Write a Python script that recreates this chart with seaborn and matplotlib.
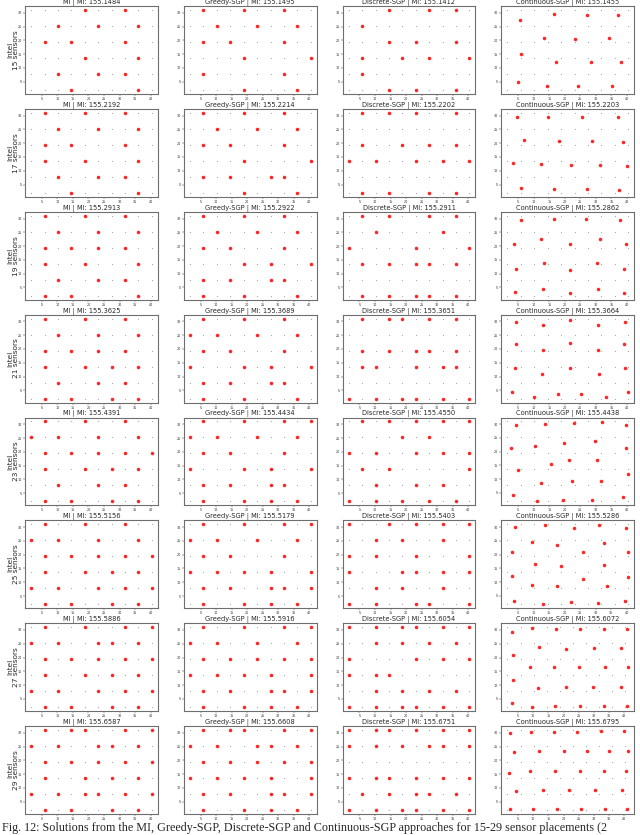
import matplotlib
matplotlib.use("Agg")
import matplotlib.pyplot as plt
import seaborn as sns
import pandas as pd

# ---------------- data ----------------
sensor_counts = [15, 17, 19, 21, 23, 25, 27, 29]
methods = ["MI", "Greedy-SGP", "Discrete-SGP", "Continuous-SGP"]

# candidate grid (Intel lab)
grid_x = [1.5, 5.9, 10.2, 14.5, 18.8, 23.2, 27.5, 31.8, 36.1, 40.4]
grid_y = [2.0, 7.8, 13.6, 19.4, 25.2, 31.0]

mi_scores = [155.1484, 155.2192, 155.2913, 155.3625, 155.4391, 155.5156, 155.5886, 155.6587]
greedy_scores = [155.1495, 155.2214, 155.2922, 155.3689, 155.4434, 155.5179, 155.5916, 155.6608]
discrete_scores = [155.1412, 155.2202, 155.2911, 155.3651, 155.4550, 155.5403, 155.6054, 155.6751]
cont_scores = [155.1455, 155.2203, 155.2862, 155.3664, 155.4438, 155.5286, 155.6072, 155.6795]

# discrete solutions: selected grid columns for each grid row (bottom row first)
mi_15 = [[3, 8], [2, 5, 7], [4, 8], [1, 3, 7], [2, 5, 8], [4, 7]]
mi_17 = [[3, 8], [2, 5, 7], [1, 4, 8], [1, 3, 7], [2, 5, 8], [1, 4, 7]]
mi_19 = [[1, 3, 8], [2, 5, 7], [1, 4, 8], [1, 3, 5, 7], [2, 5, 8], [1, 4, 7]]
mi_21 = [[1, 3, 6, 8], [2, 5, 7], [1, 4, 6, 8], [1, 3, 5, 7], [2, 5, 8], [1, 4, 7]]
mi_23 = [[1, 3, 6, 8], [2, 5, 7], [1, 4, 6, 8], [1, 3, 5, 7, 9], [0, 2, 5, 8], [1, 4, 7]]
mi_25 = [[1, 3, 6, 8], [0, 2, 5, 7, 9], [1, 4, 6, 8], [1, 3, 5, 7, 9], [0, 2, 5, 8], [1, 4, 7]]
mi_27 = [[1, 3, 6, 8], [0, 2, 5, 7, 9], [1, 4, 6, 8], [1, 3, 5, 7, 9], [0, 2, 5, 6, 8], [1, 4, 7, 9]]
mi_29 = [[1, 3, 6, 8], [0, 2, 4, 5, 7, 9], [1, 4, 6, 8], [1, 3, 5, 7, 9], [0, 2, 5, 6, 8], [1, 3, 4, 7, 9]]

greedy_15 = [[4, 8], [1, 7], [4, 9], [1, 3, 7], [2, 5, 8], [1, 4, 7]]
greedy_17 = [[4, 8], [1, 3, 6, 7], [4, 9], [1, 3, 7], [2, 5, 8], [1, 4, 7]]
greedy_19 = [[1, 4, 8], [1, 3, 6, 7], [4, 6, 9], [1, 3, 7], [2, 5, 8], [1, 4, 7]]
greedy_21 = [[1, 4, 8], [1, 3, 6, 7], [0, 4, 6, 9], [1, 3, 7], [0, 2, 5, 8], [1, 4, 7]]
greedy_23 = [[1, 4, 6, 8], [1, 3, 6, 7], [0, 4, 6, 9], [1, 3, 7], [0, 2, 5, 8], [1, 4, 7, 9]]
greedy_25 = [[1, 4, 6, 8], [1, 3, 6, 7, 9], [0, 2, 4, 6, 9], [1, 3, 7], [0, 2, 5, 8], [1, 4, 7, 9]]
greedy_27 = [[1, 4, 6, 8], [1, 3, 6, 7, 9], [0, 2, 4, 6, 9], [1, 3, 5, 7, 9], [0, 2, 5, 8], [1, 4, 7, 9]]
greedy_29 = [[1, 4, 6, 8], [1, 3, 6, 7, 9], [0, 2, 4, 6, 9], [1, 3, 5, 7, 9], [0, 2, 5, 6, 8], [1, 3, 4, 7, 9]]

discrete_15 = [[3, 5, 8], [1], [1, 4, 6, 9], [3, 5, 8], [1], [3, 6, 8]]
discrete_17 = [[1, 3, 6, 8], [], [0, 2, 5, 7, 9], [1, 4, 6, 8], [], [1, 3, 5, 8]]
discrete_19 = [[1, 3, 5, 6, 8], [], [1, 3, 5, 6, 8], [0, 5, 9], [2, 7], [1, 3, 6, 8]]
discrete_21 = [[0, 2, 4, 5, 7, 9], [], [1, 2, 5, 7, 8], [1, 3, 5, 6, 8], [], [1, 3, 4, 6, 8]]
discrete_23 = [[0, 2, 4, 6, 8], [2, 5, 7], [1, 3, 9], [0, 2, 5, 7, 9], [4, 6], [1, 3, 5, 7, 9]]
discrete_25 = [[0, 2, 5, 6, 9], [2, 4, 7], [0, 4, 5, 7, 9], [0, 2, 5, 9], [2, 4, 7], [0, 3, 5, 7, 9]]
discrete_27 = [[0, 2, 4, 5, 7, 9], [2, 4, 6, 8], [0, 2, 3], [0, 5, 7, 9], [2, 4, 6, 8], [0, 2, 4, 5, 7, 9]]
discrete_29 = [[0, 2, 4, 5, 7, 9], [1, 3, 5, 6, 8], [0, 2, 3, 5, 7, 9], [], [0, 2, 4, 6, 7, 9], [0, 2, 3, 5, 7, 9]]

# continuous solutions
cont_15_x = [5.4, 16.4, 27.1, 37.1, 13.2, 23.3, 34.3, 5.8, 17.2, 28.3, 38.1, 4.9, 14.1, 24.3, 35.1]
cont_15_y = [27.3, 29.5, 29.3, 29.3, 20.8, 20.5, 20.8, 15.1, 12.0, 12.0, 12.3, 4.9, 3.4, 3.4, 3.4]
cont_17_x = [4.5, 14.7, 25.5, 37.1, 7.0, 18.1, 28.6, 38.8, 3.3, 12.4, 22.1, 31.4, 40.0, 5.8, 16.4, 27.0, 37.5]
cont_17_y = [29.4, 29.4, 29.4, 29.4, 21.1, 20.9, 20.9, 20.6, 12.7, 12.5, 12.2, 12.0, 11.7, 3.7, 3.5, 3.5, 3.2]
cont_19_x = [5.8, 16.6, 26.8, 37.9, 3.7, 12.4, 21.7, 31.4, 39.6, 4.4, 13.2, 21.8, 30.5, 39.0, 4.1, 13.0, 21.8, 30.6, 39.2]
cont_19_y = [29.6, 29.9, 29.9, 29.6, 20.6, 22.4, 20.9, 22.4, 20.6, 11.6, 13.8, 11.4, 13.8, 11.6, 3.2, 4.3, 2.9, 4.3, 3.1]
cont_21_x = [4.3, 13.1, 21.8, 30.6, 39.4, 4.3, 13.1, 21.8, 30.6, 39.2, 4.1, 12.6, 21.7, 30.9, 39.5,
             3.1, 10.1, 17.9, 25.3, 33.3, 40.3]
cont_21_y = [29.9, 28.8, 30.4, 28.8, 29.9, 21.9, 19.5, 22.1, 19.5, 21.9, 13.2, 10.8, 13.0, 10.8, 13.2,
             4.2, 2.6, 3.6, 3.6, 2.6, 4.2]
cont_23_x = [4.4, 13.6, 23.0, 31.9, 39.6, 2.7, 10.3, 19.6, 29.8, 39.6, 21.4, 30.5, 15.5, 5.0, 40.2,
             22.4, 31.6, 12.4, 3.3, 38.7, 19.5, 28.7, 10.9]
cont_23_y = [29.6, 30.0, 30.4, 30.8, 29.6, 21.4, 21.9, 23.2, 23.8, 21.5, 16.9, 16.9, 15.6, 13.2, 12.0,
             9.5, 9.5, 8.5, 4.2, 3.4, 2.6, 2.3, 1.9]
cont_25_x = [4.1, 13.6, 23.0, 31.1, 39.8, 9.5, 17.6, 32.7, 2.9, 25.8, 40.3, 10.5, 18.9, 32.6, 2.9,
             40.5, 25.8, 33.6, 9.5, 17.6, 3.7, 12.9, 22.1, 30.6, 39.5]
cont_25_y = [29.9, 30.8, 29.6, 30.8, 29.5, 24.5, 23.5, 24.2, 21.0, 21.0, 20.8, 16.7, 15.8, 16.3, 12.2,
             12.0, 11.0, 8.5, 9.0, 8.7, 3.1, 1.9, 2.6, 2.2, 3.1]
cont_27_x = [3.1, 9.7, 17.4, 25.3, 33.4, 40.9, 11.8, 20.8, 29.9, 38.8, 3.3, 9.0, 16.8, 25.2, 33.8, 41.3,
             3.3, 11.7, 20.8, 29.7, 38.8, 3.1, 9.7, 17.3, 25.3, 33.4, 40.9]
cont_27_y = [29.4, 30.8, 30.5, 30.4, 30.4, 30.4, 23.8, 23.2, 23.3, 23.3, 21.0, 16.4, 16.4, 16.4, 16.4, 16.4,
             11.8, 9.0, 9.5, 9.5, 9.5, 3.5, 2.0, 2.5, 2.5, 2.5, 2.6]
cont_29_x = [2.4, 9.3, 16.7, 24.4, 32.2, 40.0, 3.7, 12.0, 20.1, 27.8, 35.1, 41.3, 2.0, 9.0, 17.3,
             25.3, 33.4, 40.6, 4.4, 13.1, 21.7, 30.5, 39.2, 2.4, 9.8, 17.8, 25.8, 33.6, 40.9]
cont_29_y = [30.1, 30.3, 30.4, 30.4, 30.5, 30.5, 23.0, 23.3, 23.5, 23.5, 23.5, 23.6, 15.5, 16.2, 16.2,
             16.2, 16.2, 16.3, 8.9, 9.3, 9.3, 9.3, 9.3, 2.4, 2.4, 2.4, 2.5, 2.5, 2.5]

caption = ("Fig. 12: Solutions from the MI, Greedy-SGP, Discrete-SGP and Continuous-SGP "
           "approaches for 15-29 sensor placements (2")

# ---------------- build tables ----------------
grid_df = pd.DataFrame([(gx, gy) for gy in grid_y for gx in grid_x], columns=["x", "y"])

def discrete_df(rows):
    pts = [(grid_x[c], grid_y[r]) for r, cols in enumerate(rows) for c in cols]
    return pd.DataFrame(pts, columns=["x", "y"])

mi_sol = [mi_15, mi_17, mi_19, mi_21, mi_23, mi_25, mi_27, mi_29]
greedy_sol = [greedy_15, greedy_17, greedy_19, greedy_21, greedy_23, greedy_25, greedy_27, greedy_29]
discrete_sol = [discrete_15, discrete_17, discrete_19, discrete_21, discrete_23, discrete_25,
                discrete_27, discrete_29]
cont_sol = [(cont_15_x, cont_15_y), (cont_17_x, cont_17_y), (cont_19_x, cont_19_y),
            (cont_21_x, cont_21_y), (cont_23_x, cont_23_y), (cont_25_x, cont_25_y),
            (cont_27_x, cont_27_y), (cont_29_x, cont_29_y)]
scores = [mi_scores, greedy_scores, discrete_scores, cont_scores]

# ---------------- plot ----------------
sns.set_style("white")
plt.rcParams["font.family"] = ["DejaVu Sans"]

fig, axes = plt.subplots(8, 4, figsize=(6.4, 8.35), dpi=100)
fig.subplots_adjust(left=0.039, right=0.991, top=0.9928, bottom=0.0251,
                    wspace=0.195, hspace=0.17)

for i, n in enumerate(sensor_counts):
    for j, m in enumerate(methods):
        ax = axes[i, j]
        sns.scatterplot(data=grid_df, x="x", y="y", ax=ax, color="#9a9a9a", s=0.6,
                        linewidth=0, legend=False)
        if j == 0:
            sol = discrete_df(mi_sol[i])
        elif j == 1:
            sol = discrete_df(greedy_sol[i])
        elif j == 2:
            sol = discrete_df(discrete_sol[i])
        else:
            sol = pd.DataFrame({"x": cont_sol[i][0], "y": cont_sol[i][1]})
        sns.scatterplot(data=sol, x="x", y="y", ax=ax, color="#ff1a1a", s=6.5,
                        linewidth=0, alpha=0.95, legend=False)
        ax.set_title(f"{m} | MI: {scores[j][i]:.4f}", fontsize=4.8, pad=1.5)
        ax.set_xticks([5, 10, 15, 20, 25, 30, 35, 40])
        ax.set_yticks([5, 10, 15, 20, 25, 30])
        ax.tick_params(axis="both", labelsize=2.4, length=1.2, width=0.3, pad=1.0,
                       bottom=True, left=True)
        ax.set_xlabel("")
        if j == 0:
            ax.set_ylabel(f"Intel\n{n} sensors", fontsize=5.3, linespacing=1.0)
            ax.yaxis.set_label_coords(-0.045, 0.5)
        else:
            ax.set_ylabel("")
        for sp in ax.spines.values():
            sp.set_color("#6e6e6e")
            sp.set_linewidth(0.8)

fig.text(0.003, 0.0084, caption, family="Liberation Serif", fontsize=8.7,
         ha="left", va="center")

fig.savefig("out.png", dpi=100)
